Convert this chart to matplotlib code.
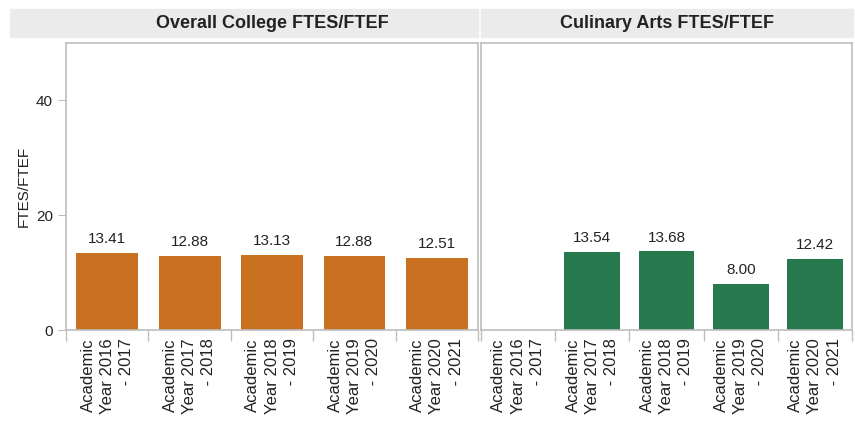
import numpy as np
import matplotlib.pyplot as plt
from matplotlib.patches import Rectangle

years = ['Academic\nYear 2016\n - 2017', 'Academic\nYear 2017\n - 2018', 'Academic\nYear 2018\n - 2019',
         'Academic\nYear 2019\n - 2020', 'Academic\nYear 2020\n - 2021']
college = [13.41, 12.88, 13.13, 12.88, 12.51]
culinary = [np.nan, 13.54, 13.68, 8.00, 12.42]
titles = ['Overall College FTES/FTEF', 'Culinary Arts FTES/FTEF']
colors = ['#C8701F', '#267A4D']
grey = '#BDBDBD'

W, H = 855, 421
fig = plt.figure(figsize=(W / 100, H / 100), dpi=100)
plt.rcParams['font.family'] = ['Liberation Sans', 'DejaVu Sans']

# pixel boxes (x0, x1) of the two panels, plot area from y=43 to y=330
panels = [(66, 478), (481, 852)]
bands = [(10, 478), (481, 853)]
top, bot = 43, 330

for i, (vals, x01) in enumerate(zip([college, culinary], panels)):
    x0, x1 = x01
    ax = fig.add_axes([x0 / W, (H - bot) / H, (x1 - x0) / W, (bot - top) / H])
    pos = np.arange(len(years))
    ax.bar(pos, vals, width=0.75, color=colors[i])
    for p, v in zip(pos, vals):
        if not np.isnan(v):
            ax.text(p, v + 1.2, '%.2f' % v, ha='center', va='bottom', fontsize=11, color='#222222')
    ax.set_xlim(-0.5, len(years) - 0.5)
    ax.set_ylim(0, 50)
    ax.set_xticks(pos)
    ax.set_xticklabels(years, rotation=90, fontsize=12, color='#222222', ha='center', va='top',
                       multialignment='right', linespacing=1.35)
    ax.set_xticks(np.arange(-0.5, len(years)), minor=True)
    ax.tick_params(axis='x', which='major', length=0, pad=6)
    ax.tick_params(axis='x', which='minor', length=8, color=grey, width=1)
    for s in ax.spines.values():
        s.set_color(grey)
        s.set_linewidth(1.2)
    if i == 0:
        ax.set_yticks([0, 20, 40])
        ax.tick_params(axis='y', length=6, color=grey, labelsize=11, labelcolor='#222222')
        ax.set_ylabel('FTES/FTEF', fontsize=11, color='#222222', labelpad=4)
    else:
        ax.set_yticks([])
    # header band
    bx0, bx1 = bands[i]
    fig.patches.append(Rectangle((bx0 / W, (H - 37) / H), (bx1 - bx0) / W, 28 / H,
                                 transform=fig.transFigure, color='#EBEBEB', zorder=0))
    fig.text((x0 + x1) / 2 / W, (H - 23) / H, titles[i], ha='center', va='center',
             fontsize=13, fontweight='bold', color='#222222')

fig.savefig('out.png', dpi=100)
